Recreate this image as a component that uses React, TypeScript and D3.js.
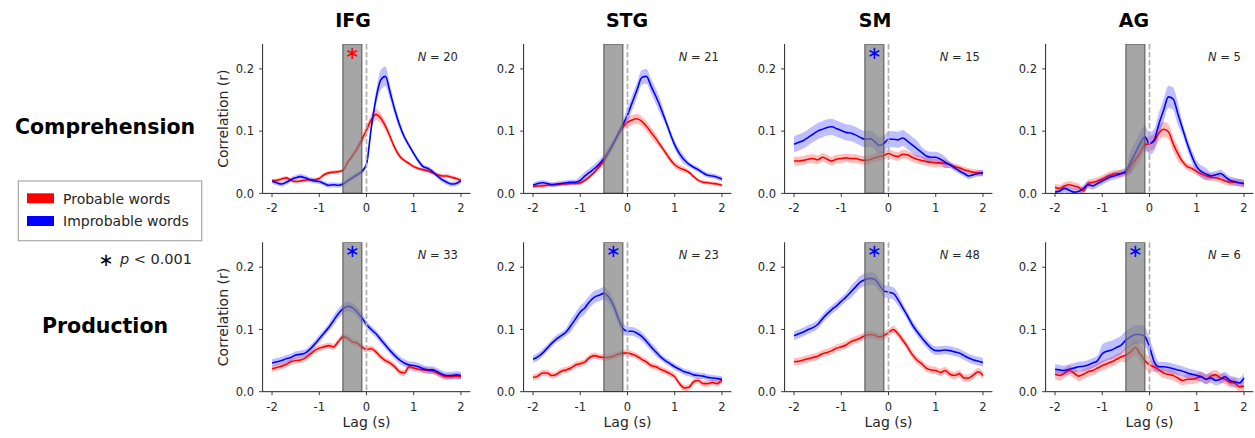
import * as d3 from 'd3';

// lag axis (s)
const lags = [
  -2.0, -1.9, -1.8, -1.7, -1.6, -1.5, -1.4, -1.3, -1.2, -1.1, -1.0, -0.9, -0.8, -0.7, -0.6, -0.5, -0.4, -0.3, -0.2, -0.1,
  0.0, 0.1, 0.2, 0.3, 0.4, 0.5, 0.6, 0.7, 0.8, 0.9, 1.0, 1.1, 1.2, 1.3, 1.4, 1.5, 1.6, 1.7, 1.8, 1.9, 2.0,
];

const regions = ['IFG', 'STG', 'SM', 'AG'];
const tasks = ['Comprehension', 'Production'];
const subjectCounts = [[20, 21, 15, 5], [33, 23, 48, 6]];
const starColors = [['#ff0000', null, '#0000ff', null], ['#0000ff', '#0000ff', '#0000ff', '#0000ff']];
const xTicks = [-2, -1, 0, 1, 2];
const yTicks = [0, 0.1, 0.2];
const sigWindow = [-0.5, -0.1];
const legendLabels = ['Probable words', 'Improbable words'];

// ---- Comprehension ----
const compIFGProbable = [0.020, 0.021, 0.023, 0.025, 0.021, 0.019, 0.020, 0.021, 0.022, 0.022, 0.024, 0.030, 0.033, 0.034, 0.035, 0.037, 0.050, 0.060, 0.072, 0.086, 0.102, 0.118, 0.127, 0.121, 0.108, 0.091, 0.073, 0.060, 0.053, 0.048, 0.043, 0.040, 0.038, 0.036, 0.033, 0.030, 0.028, 0.028, 0.026, 0.024, 0.021];
const compIFGImprobable = [0.020, 0.017, 0.015, 0.018, 0.022, 0.025, 0.027, 0.025, 0.022, 0.020, 0.019, 0.016, 0.013, 0.014, 0.013, 0.015, 0.020, 0.025, 0.030, 0.035, 0.047, 0.105, 0.152, 0.182, 0.188, 0.162, 0.134, 0.110, 0.091, 0.077, 0.064, 0.052, 0.043, 0.040, 0.035, 0.028, 0.022, 0.018, 0.015, 0.016, 0.020];
const compSTGProbable = [0.011, 0.012, 0.012, 0.013, 0.014, 0.014, 0.015, 0.015, 0.016, 0.016, 0.017, 0.021, 0.027, 0.034, 0.043, 0.052, 0.066, 0.080, 0.094, 0.106, 0.114, 0.118, 0.120, 0.116, 0.108, 0.098, 0.088, 0.077, 0.066, 0.055, 0.046, 0.041, 0.038, 0.034, 0.027, 0.021, 0.018, 0.017, 0.016, 0.015, 0.013];
const compSTGImprobable = [0.013, 0.016, 0.017, 0.016, 0.014, 0.015, 0.016, 0.017, 0.018, 0.018, 0.021, 0.028, 0.034, 0.040, 0.047, 0.056, 0.067, 0.080, 0.095, 0.110, 0.126, 0.146, 0.166, 0.186, 0.188, 0.172, 0.156, 0.138, 0.118, 0.097, 0.078, 0.064, 0.054, 0.047, 0.042, 0.038, 0.033, 0.029, 0.028, 0.026, 0.023];
const compSMProbable = [0.052, 0.052, 0.053, 0.055, 0.056, 0.054, 0.058, 0.055, 0.052, 0.055, 0.056, 0.057, 0.056, 0.056, 0.054, 0.053, 0.054, 0.057, 0.059, 0.061, 0.064, 0.061, 0.059, 0.063, 0.062, 0.058, 0.055, 0.053, 0.051, 0.050, 0.049, 0.049, 0.048, 0.046, 0.043, 0.041, 0.038, 0.036, 0.034, 0.033, 0.032];
const compSMImprobable = [0.079, 0.082, 0.085, 0.090, 0.095, 0.100, 0.103, 0.106, 0.107, 0.104, 0.101, 0.098, 0.097, 0.094, 0.090, 0.087, 0.088, 0.084, 0.077, 0.080, 0.087, 0.087, 0.086, 0.089, 0.084, 0.078, 0.072, 0.066, 0.060, 0.058, 0.058, 0.055, 0.050, 0.046, 0.041, 0.036, 0.032, 0.028, 0.030, 0.032, 0.033];
const compAGProbable = [0.010, 0.008, 0.012, 0.014, 0.012, 0.010, 0.004, 0.016, 0.018, 0.020, 0.023, 0.027, 0.030, 0.032, 0.032, 0.033, 0.044, 0.054, 0.064, 0.078, 0.080, 0.084, 0.097, 0.103, 0.099, 0.080, 0.064, 0.051, 0.043, 0.040, 0.035, 0.031, 0.028, 0.026, 0.025, 0.023, 0.020, 0.018, 0.018, 0.017, 0.015];
const compAGImprobable = [0.002, 0.004, 0.008, 0.005, 0.002, 0.003, 0.008, 0.014, 0.012, 0.016, 0.020, 0.024, 0.027, 0.029, 0.032, 0.036, 0.050, 0.065, 0.080, 0.091, 0.080, 0.086, 0.112, 0.134, 0.155, 0.152, 0.128, 0.104, 0.080, 0.059, 0.043, 0.035, 0.031, 0.028, 0.030, 0.032, 0.027, 0.021, 0.019, 0.017, 0.016];

// ---- Production ----
const prodIFGProbable = [0.037, 0.039, 0.041, 0.044, 0.048, 0.050, 0.051, 0.054, 0.060, 0.066, 0.070, 0.072, 0.074, 0.072, 0.080, 0.088, 0.086, 0.080, 0.078, 0.072, 0.068, 0.069, 0.064, 0.056, 0.050, 0.046, 0.040, 0.032, 0.030, 0.040, 0.038, 0.036, 0.035, 0.034, 0.033, 0.030, 0.026, 0.024, 0.024, 0.025, 0.024];
const prodIFGImprobable = [0.046, 0.048, 0.050, 0.053, 0.055, 0.059, 0.060, 0.062, 0.068, 0.076, 0.085, 0.094, 0.103, 0.114, 0.125, 0.133, 0.137, 0.135, 0.128, 0.119, 0.108, 0.100, 0.093, 0.084, 0.075, 0.066, 0.058, 0.051, 0.046, 0.043, 0.042, 0.040, 0.037, 0.035, 0.035, 0.032, 0.028, 0.026, 0.026, 0.027, 0.026];
const prodSTGProbable = [0.023, 0.025, 0.030, 0.030, 0.026, 0.028, 0.033, 0.035, 0.038, 0.043, 0.045, 0.048, 0.055, 0.058, 0.056, 0.055, 0.055, 0.057, 0.060, 0.062, 0.062, 0.060, 0.057, 0.052, 0.048, 0.042, 0.040, 0.036, 0.033, 0.029, 0.024, 0.013, 0.006, 0.007, 0.016, 0.018, 0.013, 0.013, 0.015, 0.013, 0.019];
const prodSTGImprobable = [0.052, 0.056, 0.062, 0.070, 0.078, 0.085, 0.090, 0.096, 0.106, 0.117, 0.128, 0.135, 0.145, 0.152, 0.155, 0.158, 0.152, 0.139, 0.119, 0.102, 0.097, 0.097, 0.094, 0.089, 0.081, 0.072, 0.064, 0.056, 0.050, 0.045, 0.040, 0.036, 0.032, 0.030, 0.027, 0.026, 0.025, 0.023, 0.022, 0.021, 0.020];
const prodSMProbable = [0.048, 0.049, 0.051, 0.053, 0.055, 0.057, 0.061, 0.063, 0.066, 0.070, 0.072, 0.075, 0.080, 0.083, 0.086, 0.090, 0.092, 0.091, 0.088, 0.090, 0.095, 0.100, 0.093, 0.083, 0.072, 0.060, 0.051, 0.045, 0.038, 0.035, 0.034, 0.031, 0.034, 0.028, 0.026, 0.029, 0.022, 0.022, 0.027, 0.032, 0.026];
const prodSMImprobable = [0.090, 0.093, 0.096, 0.100, 0.103, 0.108, 0.117, 0.125, 0.132, 0.138, 0.145, 0.152, 0.160, 0.168, 0.176, 0.180, 0.182, 0.181, 0.172, 0.162, 0.160, 0.158, 0.148, 0.135, 0.122, 0.108, 0.097, 0.087, 0.078, 0.070, 0.066, 0.066, 0.067, 0.066, 0.064, 0.062, 0.058, 0.054, 0.051, 0.049, 0.047];
const prodAGProbable = [0.028, 0.026, 0.030, 0.034, 0.030, 0.025, 0.028, 0.032, 0.034, 0.038, 0.042, 0.045, 0.048, 0.052, 0.056, 0.059, 0.064, 0.071, 0.061, 0.050, 0.043, 0.040, 0.035, 0.030, 0.028, 0.026, 0.022, 0.018, 0.020, 0.020, 0.022, 0.024, 0.020, 0.025, 0.027, 0.022, 0.020, 0.015, 0.014, 0.008, 0.009];
const prodAGImprobable = [0.036, 0.035, 0.034, 0.036, 0.038, 0.040, 0.041, 0.043, 0.046, 0.050, 0.061, 0.065, 0.067, 0.071, 0.075, 0.083, 0.088, 0.092, 0.092, 0.089, 0.072, 0.048, 0.040, 0.040, 0.039, 0.037, 0.035, 0.033, 0.030, 0.028, 0.026, 0.024, 0.020, 0.022, 0.018, 0.020, 0.024, 0.018, 0.016, 0.014, 0.022];

// ---- SEM bands ----
const compIFGProbableSem = [0.003, 0.003, 0.003, 0.003, 0.003, 0.003, 0.003, 0.003, 0.003, 0.003, 0.003, 0.003, 0.003, 0.003, 0.003, 0.003, 0.004, 0.005, 0.006, 0.007, 0.008, 0.009, 0.009, 0.008, 0.007, 0.006, 0.005, 0.004, 0.003, 0.003, 0.003, 0.003, 0.003, 0.003, 0.003, 0.003, 0.003, 0.003, 0.003, 0.003, 0.003];
const compIFGImprobableSem = [0.004, 0.004, 0.004, 0.004, 0.004, 0.004, 0.004, 0.004, 0.004, 0.004, 0.004, 0.004, 0.004, 0.004, 0.004, 0.004, 0.004, 0.004, 0.004, 0.004, 0.005, 0.008, 0.012, 0.016, 0.016, 0.012, 0.009, 0.007, 0.005, 0.004, 0.004, 0.004, 0.004, 0.004, 0.004, 0.004, 0.004, 0.004, 0.004, 0.004, 0.004];
const compSTGProbableSem = [0.003, 0.003, 0.003, 0.003, 0.003, 0.003, 0.003, 0.003, 0.003, 0.003, 0.003, 0.003, 0.003, 0.003, 0.005, 0.005, 0.005, 0.005, 0.005, 0.005, 0.008, 0.008, 0.008, 0.008, 0.008, 0.008, 0.008, 0.005, 0.005, 0.005, 0.005, 0.005, 0.005, 0.003, 0.003, 0.003, 0.003, 0.003, 0.003, 0.003, 0.003];
const compSTGImprobableSem = [0.004, 0.004, 0.004, 0.004, 0.004, 0.004, 0.004, 0.004, 0.004, 0.004, 0.007, 0.007, 0.007, 0.007, 0.007, 0.007, 0.007, 0.007, 0.007, 0.007, 0.012, 0.012, 0.012, 0.012, 0.012, 0.012, 0.012, 0.012, 0.007, 0.007, 0.007, 0.007, 0.007, 0.004, 0.004, 0.004, 0.004, 0.004, 0.004, 0.004, 0.004];
const compSMProbableSem = [0.007, 0.007, 0.007, 0.007, 0.007, 0.007, 0.007, 0.007, 0.007, 0.007, 0.007, 0.007, 0.007, 0.007, 0.007, 0.007, 0.007, 0.007, 0.007, 0.007, 0.007, 0.007, 0.007, 0.007, 0.007, 0.007, 0.007, 0.007, 0.007, 0.007, 0.007, 0.007, 0.007, 0.005, 0.005, 0.005, 0.005, 0.005, 0.005, 0.005, 0.005];
const compSMImprobableSem = [0.013, 0.013, 0.013, 0.013, 0.013, 0.013, 0.013, 0.013, 0.013, 0.013, 0.013, 0.013, 0.013, 0.013, 0.013, 0.013, 0.013, 0.013, 0.013, 0.013, 0.013, 0.013, 0.013, 0.013, 0.013, 0.013, 0.013, 0.009, 0.009, 0.009, 0.009, 0.009, 0.009, 0.005, 0.005, 0.005, 0.005, 0.005, 0.005, 0.005, 0.005];
const compAGProbableSem = [0.006, 0.006, 0.006, 0.006, 0.006, 0.006, 0.006, 0.006, 0.006, 0.006, 0.006, 0.006, 0.006, 0.006, 0.006, 0.006, 0.012, 0.012, 0.012, 0.012, 0.012, 0.012, 0.012, 0.012, 0.012, 0.012, 0.012, 0.006, 0.006, 0.006, 0.006, 0.006, 0.006, 0.006, 0.006, 0.006, 0.006, 0.006, 0.006, 0.006, 0.006];
const compAGImprobableSem = [0.006, 0.006, 0.006, 0.006, 0.006, 0.006, 0.006, 0.006, 0.006, 0.006, 0.006, 0.006, 0.006, 0.006, 0.006, 0.006, 0.018, 0.018, 0.018, 0.018, 0.018, 0.018, 0.018, 0.018, 0.018, 0.018, 0.018, 0.010, 0.010, 0.010, 0.010, 0.010, 0.010, 0.006, 0.006, 0.006, 0.006, 0.006, 0.006, 0.006, 0.006];
const prodIFGProbableSem = [0.005, 0.005, 0.005, 0.005, 0.005, 0.005, 0.005, 0.005, 0.005, 0.005, 0.005, 0.005, 0.005, 0.005, 0.005, 0.005, 0.005, 0.005, 0.005, 0.005, 0.005, 0.005, 0.005, 0.005, 0.005, 0.005, 0.005, 0.005, 0.005, 0.005, 0.005, 0.005, 0.005, 0.005, 0.005, 0.005, 0.005, 0.005, 0.005, 0.005, 0.005];
const prodIFGImprobableSem = [0.006, 0.006, 0.006, 0.006, 0.006, 0.006, 0.006, 0.006, 0.006, 0.006, 0.006, 0.006, 0.006, 0.008, 0.008, 0.008, 0.008, 0.008, 0.008, 0.008, 0.006, 0.006, 0.006, 0.006, 0.006, 0.006, 0.006, 0.006, 0.006, 0.006, 0.006, 0.006, 0.006, 0.006, 0.006, 0.006, 0.006, 0.006, 0.006, 0.006, 0.006];
const prodSTGProbableSem = [0.005, 0.005, 0.005, 0.005, 0.005, 0.005, 0.005, 0.005, 0.005, 0.005, 0.005, 0.005, 0.005, 0.005, 0.005, 0.005, 0.005, 0.005, 0.005, 0.005, 0.005, 0.005, 0.005, 0.005, 0.005, 0.005, 0.005, 0.005, 0.005, 0.005, 0.005, 0.005, 0.005, 0.005, 0.005, 0.005, 0.005, 0.005, 0.005, 0.005, 0.005];
const prodSTGImprobableSem = [0.006, 0.006, 0.006, 0.006, 0.006, 0.006, 0.006, 0.006, 0.010, 0.010, 0.010, 0.010, 0.010, 0.010, 0.010, 0.010, 0.010, 0.010, 0.010, 0.010, 0.007, 0.007, 0.007, 0.007, 0.007, 0.007, 0.007, 0.005, 0.005, 0.005, 0.005, 0.005, 0.005, 0.005, 0.005, 0.005, 0.005, 0.005, 0.005, 0.005, 0.005];
const prodSMProbableSem = [0.006, 0.006, 0.006, 0.006, 0.006, 0.006, 0.006, 0.006, 0.006, 0.006, 0.006, 0.006, 0.006, 0.006, 0.006, 0.006, 0.006, 0.006, 0.006, 0.006, 0.006, 0.006, 0.006, 0.006, 0.006, 0.006, 0.006, 0.006, 0.006, 0.006, 0.006, 0.006, 0.006, 0.006, 0.006, 0.006, 0.006, 0.006, 0.006, 0.006, 0.006];
const prodSMImprobableSem = [0.007, 0.007, 0.007, 0.007, 0.007, 0.007, 0.007, 0.007, 0.007, 0.007, 0.007, 0.007, 0.010, 0.010, 0.010, 0.010, 0.010, 0.010, 0.010, 0.010, 0.010, 0.010, 0.010, 0.007, 0.007, 0.007, 0.007, 0.007, 0.007, 0.007, 0.007, 0.007, 0.007, 0.007, 0.007, 0.007, 0.007, 0.007, 0.007, 0.007, 0.007];
const prodAGProbableSem = [0.008, 0.008, 0.008, 0.008, 0.008, 0.008, 0.008, 0.008, 0.008, 0.008, 0.008, 0.008, 0.008, 0.008, 0.008, 0.012, 0.012, 0.012, 0.012, 0.012, 0.012, 0.008, 0.008, 0.008, 0.008, 0.008, 0.008, 0.008, 0.008, 0.008, 0.008, 0.008, 0.008, 0.008, 0.008, 0.008, 0.008, 0.008, 0.008, 0.008, 0.008];
const prodAGImprobableSem = [0.008, 0.008, 0.008, 0.008, 0.008, 0.008, 0.008, 0.008, 0.008, 0.008, 0.015, 0.015, 0.015, 0.015, 0.015, 0.015, 0.015, 0.015, 0.015, 0.015, 0.015, 0.015, 0.008, 0.008, 0.008, 0.008, 0.008, 0.008, 0.008, 0.008, 0.008, 0.008, 0.008, 0.008, 0.008, 0.008, 0.008, 0.008, 0.008, 0.008, 0.008];

const probable = [
  [compIFGProbable, compSTGProbable, compSMProbable, compAGProbable],
  [prodIFGProbable, prodSTGProbable, prodSMProbable, prodAGProbable],
];
const improbable = [
  [compIFGImprobable, compSTGImprobable, compSMImprobable, compAGImprobable],
  [prodIFGImprobable, prodSTGImprobable, prodSMImprobable, prodAGImprobable],
];
const probableSem = [
  [compIFGProbableSem, compSTGProbableSem, compSMProbableSem, compAGProbableSem],
  [prodIFGProbableSem, prodSTGProbableSem, prodSMProbableSem, prodAGProbableSem],
];
const improbableSem = [
  [compIFGImprobableSem, compSTGImprobableSem, compSMImprobableSem, compAGImprobableSem],
  [prodIFGImprobableSem, prodSTGImprobableSem, prodSMImprobableSem, prodAGImprobableSem],
];

const W = 1255;
const H = 438;
const FONT = '"DejaVu Sans", Verdana, sans-serif';
const RED = '#ff0000';
const BLUE = '#0000ff';
const INK = '#262626';
const COL_LEFT = [262.6, 523.6, 784.6, 1045.6];
const ROW_TOP = [44, 242.3];
const PW = 207.8;
const PH = 149.4;
const TITLE_X = [353, 627, 875, 1134];

function Panel({ row, col }: { row: number; col: number }) {
  const left = COL_LEFT[col];
  const top = ROW_TOP[row];
  const x = d3.scaleLinear().domain([-2.2, 2.2]).range([left, left + PW]);
  const y = d3.scaleLinear().domain([0, 0.24]).range([top + PH, top]);

  const line = d3.line<number>()
    .x((_, i) => x(lags[i]))
    .y((d) => y(d))
    .curve(d3.curveMonotoneX);
  const band = (vals: number[], sem: number[]) =>
    d3.area<number>()
      .x((_, i) => x(lags[i]))
      .y0((d, i) => y(d - sem[i]))
      .y1((d, i) => y(d + sem[i]))
      .curve(d3.curveMonotoneX)(vals) ?? '';

  const clipId = `clip-${row}-${col}`;
  const star = starColors[row][col];
  const bottom = top + PH;

  return (
    <g>
      <defs>
        <clipPath id={clipId}>
          <rect x={left} y={top} width={PW} height={PH} />
        </clipPath>
      </defs>
      <g clipPath={`url(#${clipId})`}>
        <path d={band(probable[row][col], probableSem[row][col])} fill={RED} fillOpacity={0.25} />
        <path d={band(improbable[row][col], improbableSem[row][col])} fill={BLUE} fillOpacity={0.25} />
        <path d={line(probable[row][col]) ?? ''} fill="none" stroke={RED} strokeWidth={1.6} />
        <path d={line(improbable[row][col]) ?? ''} fill="none" stroke={BLUE} strokeWidth={1.6} />
        {/* significance window */}
        <rect
          x={x(sigWindow[0])}
          y={top}
          width={x(sigWindow[1]) - x(sigWindow[0])}
          height={PH}
          fill="#808080"
          fillOpacity={0.7}
          stroke="#5a5a5a"
          strokeOpacity={0.8}
          strokeWidth={1.4}
        />
        <line x1={x(0)} x2={x(0)} y1={top} y2={bottom} stroke="#b0b0b0" strokeWidth={1.7} strokeDasharray="5.5,2.4" />
      </g>

      {/* spines */}
      <line x1={left} x2={left} y1={top} y2={bottom} stroke={INK} strokeWidth={1} />
      <line x1={left} x2={left + PW} y1={bottom} y2={bottom} stroke={INK} strokeWidth={1} />

      {yTicks.map((t) => (
        <g key={`y${t}`}>
          <line x1={left - 3.5} x2={left} y1={y(t)} y2={y(t)} stroke={INK} strokeWidth={0.9} />
          <text x={left - 8.5} y={y(t)} dy="0.36em" textAnchor="end" fontSize={11.5} fill={INK} fontFamily={FONT}>
            {t.toFixed(1)}
          </text>
        </g>
      ))}
      {xTicks.map((t) => (
        <g key={`x${t}`}>
          <line x1={x(t)} x2={x(t)} y1={bottom} y2={bottom + 3.5} stroke={INK} strokeWidth={0.9} />
          <text x={x(t)} y={bottom + 19} textAnchor="middle" fontSize={11.5} fill={INK} fontFamily={FONT}>
            {t}
          </text>
        </g>
      ))}

      <text x={left + 0.94 * PW} y={top + 17} textAnchor="end" fontSize={11.5} fill={INK} fontFamily={FONT}>
        <tspan fontStyle="italic">N</tspan>
        {` = ${subjectCounts[row][col]}`}
      </text>

      {star && (
        <text
          x={x((sigWindow[0] + sigWindow[1]) / 2)}
          y={top + 14.5}
          textAnchor="middle"
          fontSize={18}
          fill={star}
          fontFamily={FONT}
        >
          ∗
        </text>
      )}

      {col === 0 && (
        <text
          transform={`translate(${left - 35},${top + PH / 2}) rotate(-90)`}
          textAnchor="middle"
          fontSize={14}
          fill={INK}
          fontFamily={FONT}
        >
          Correlation (r)
        </text>
      )}
      {row === 1 && (
        <text x={left + PW / 2} y={bottom + 35} textAnchor="middle" fontSize={14} fill={INK} fontFamily={FONT}>
          Lag (s)
        </text>
      )}
    </g>
  );
}

export default function App() {
  return (
    <svg
      width={W}
      height={H}
      viewBox={`0 0 ${W} ${H}`}
      style={{ position: 'absolute', left: 0, top: 0, background: '#fff' }}
    >
      <rect width={W} height={H} fill="#fff" />

      {regions.map((r, i) => (
        <text key={r} x={TITLE_X[i]} y={27} textAnchor="middle" fontSize={19} fontWeight="bold" fill="#000" fontFamily={FONT}>
          {r}
        </text>
      ))}
      {tasks.map((t, i) => (
        <text key={t} x={105} y={[134.3, 332.5][i]} textAnchor="middle" fontSize={20.5} fontWeight="bold" fill="#000" fontFamily={FONT}>
          {t}
        </text>
      ))}

      {tasks.map((_, row) => regions.map((__, col) => <Panel key={`${row}-${col}`} row={row} col={col} />))}

      {/* legend */}
      <rect x={18.3} y={181} width={183.4} height={59.7} fill="#fff" stroke="#a8a8a8" strokeWidth={1.2} />
      {legendLabels.map((l, i) => (
        <g key={l}>
          <rect x={27} y={193.3 + i * 22.7} width={27} height={10} fill={i === 0 ? RED : BLUE} />
          <text x={63} y={203.6 + i * 22.7} fontSize={14} fill={INK} fontFamily={FONT}>
            {l}
          </text>
        </g>
      ))}
      <text x={106} y={265.5} textAnchor="middle" fontSize={18} fill="#000" fontFamily={FONT}>
        ∗
      </text>
      <text x={192} y={264} textAnchor="end" fontSize={14.5} fill={INK} fontFamily={FONT}>
        <tspan fontStyle="italic">p</tspan>
        {' < 0.001'}
      </text>
    </svg>
  );
}
